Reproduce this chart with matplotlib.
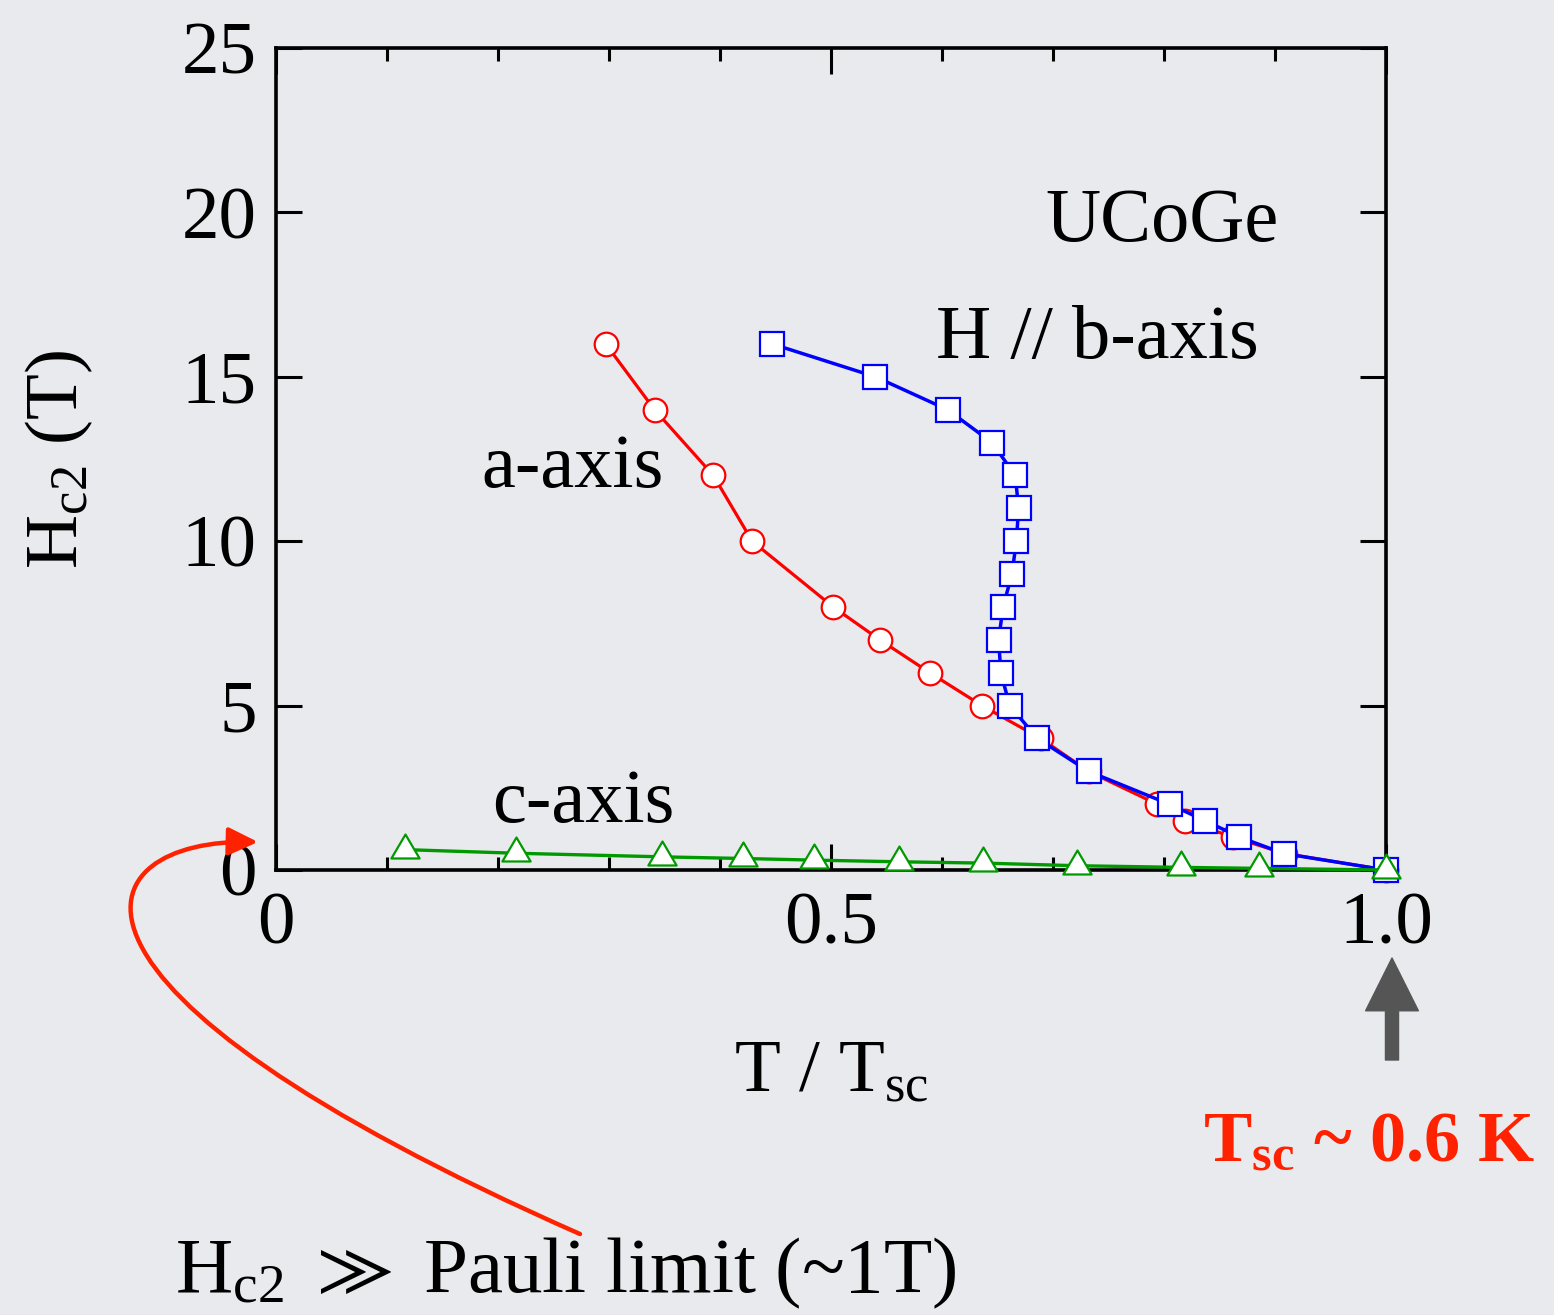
import numpy as np
import matplotlib
matplotlib.use("Agg")
import matplotlib.pyplot as plt
from matplotlib.path import Path
from matplotlib.patches import FancyArrowPatch
from matplotlib.ticker import MultipleLocator, FixedLocator

plt.rcParams['font.family'] = ['Liberation Serif', 'DejaVu Serif']
plt.rcParams['mathtext.fontset'] = 'custom'
plt.rcParams['mathtext.rm'] = 'Liberation Serif'
plt.rcParams['mathtext.it'] = 'Liberation Serif:italic'
plt.rcParams['mathtext.bf'] = 'Liberation Serif:bold'
plt.rcParams['mathtext.fallback'] = 'stix'

# H // a-axis
a_t = [0.297, 0.341, 0.394, 0.429, 0.502, 0.544, 0.589, 0.636, 0.689, 0.732,
       0.794, 0.819, 0.862, 0.909, 1.0]
a_h = [16, 14, 12, 10, 8, 7, 6, 5, 4, 3, 2, 1.5, 1, 0.5, 0]

# H // b-axis
b_t = [0.447, 0.540, 0.605, 0.645, 0.666, 0.669, 0.667, 0.663, 0.655, 0.651,
       0.653, 0.661, 0.686, 0.732, 0.805, 0.837, 0.868, 0.908, 1.0]
b_h = [16, 15, 14, 13, 12, 11, 10, 9, 8, 7, 6, 5, 4, 3, 2, 1.5, 1, 0.5, 0]

# H // c-axis
c_t = [0.116, 0.216, 0.348, 0.421, 0.485, 0.561, 0.637, 0.722, 0.815, 0.886, 1.0]
c_h = [0.62, 0.51, 0.40, 0.35, 0.30, 0.25, 0.21, 0.13, 0.08, 0.05, 0.0]

x_ticks = [0, 0.5, 1.0]
x_ticklabels = ['0', '0.5', '1.0']
y_ticks = [0, 5, 10, 15, 20, 25]

W, H = 1554, 1315
bg = '#e9eaee'

fig = plt.figure(figsize=(W / 100, H / 100), dpi=100, facecolor=bg)
ax = fig.add_axes([276 / W, 1 - 870 / H, 1110 / W, 822 / H])
ax.set_facecolor(bg)

# triangle centred on its centroid, like the original plotting program
tri = Path([(0, 1), (-0.883, -0.5), (0.883, -0.5), (0, 1)],
           [Path.MOVETO, Path.LINETO, Path.LINETO, Path.CLOSEPOLY])

ax.plot(a_t, a_h, '-', color='#ff0000', lw=2.3, marker='o', ms=17,
        mfc='white', mec='#ff0000', mew=1.6, clip_on=False, zorder=3)
ax.plot(b_t, b_h, '-', color='#0000ff', lw=2.5, marker='s', ms=17,
        mfc='white', mec='#0000ff', mew=1.6, clip_on=False, zorder=4)
ax.plot(c_t, c_h, '-', color='#009a00', lw=2.4, marker=tri, ms=23,
        mfc='white', mec='#009a00', mew=1.6, clip_on=False, zorder=5)

ax.set_xlim(0, 1)
ax.set_ylim(0, 25)
ax.xaxis.set_major_locator(FixedLocator(x_ticks))
ax.set_xticklabels(x_ticklabels)
ax.xaxis.set_minor_locator(MultipleLocator(0.1))
ax.set_yticks(y_ticks)

ax.tick_params(which='both', direction='in', top=True, right=True,
               width=2.2, labelsize=54, colors='black')
ax.tick_params(which='major', length=19, pad=14)
ax.tick_params(which='minor', length=9.5)
ax.tick_params(axis='x', pad=16)
for s in ax.spines.values():
    s.set_linewidth(2.6)

ax.set_xlabel('T / T$_\\mathrm{sc}$', fontsize=54, labelpad=58)
ax.set_ylabel('H$_\\mathrm{c2}$ (T)', fontsize=54, labelpad=62)

ax.text(0.693, 19.14, 'UCoGe', fontsize=55, va='baseline')
ax.text(0.595, 15.57, 'H // b-axis', fontsize=55, va='baseline')
ax.text(0.185, 11.65, 'a-axis', fontsize=55, va='baseline')
ax.text(0.195, 1.46, 'c-axis', fontsize=55, va='baseline')

# annotations
fig.text(1203 / W, 1 - 1162 / H, 'T$_\\mathbf{sc}$ ~ 0.6 K', fontsize=52,
         fontweight='bold', color='#ff2200', va='baseline')
fig.text(175 / W, 1 - 1292 / H, 'H$_\\mathrm{c2}$ ${\\gg}$ Pauli limit (~1T)',
         fontsize=57, va='baseline')

up = FancyArrowPatch(posA=(1392 / W, 1 - 1060 / H), posB=(1392 / W, 1 - 958 / H),
                     arrowstyle='simple,head_length=38,head_width=38,tail_width=9.4',
                     mutation_scale=1, color='#555555', shrinkA=0, shrinkB=0,
                     transform=fig.transFigure)
fig.patches.append(up)

pts = np.array([(580, 1234), (15, 985), (80, 838), (258, 842)], float)
pts[:, 0] /= W
pts[:, 1] = 1 - pts[:, 1] / H
curve = Path(pts, [Path.MOVETO, Path.CURVE4, Path.CURVE4, Path.CURVE4])
red_arrow = FancyArrowPatch(path=curve, arrowstyle='-|>,head_length=18,head_width=8.5',
                            mutation_scale=1, color='#ff2200', lw=3.2,
                            transform=fig.transFigure)
fig.patches.append(red_arrow)

fig.savefig('out.png', dpi=100, facecolor=bg)
